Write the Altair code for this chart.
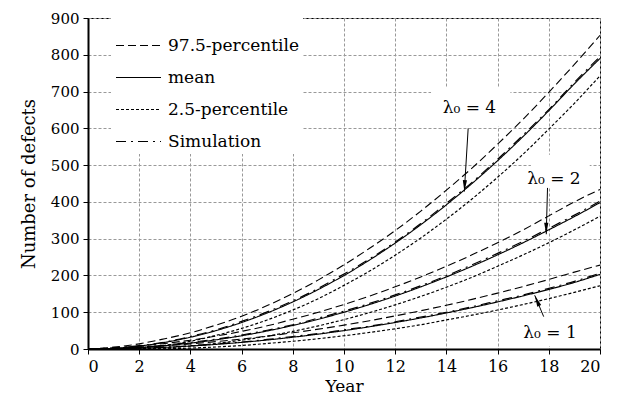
import altair as alt
import pandas as pd

years = list(range(0, 21))

mean4 = [0, 2, 8, 18, 32, 50, 72, 98, 128, 162, 200, 242, 288, 338, 392, 450, 512, 578, 648, 721, 790]
upper4 = [0, 5, 14, 28, 44, 65, 89, 118, 151, 188, 229, 274, 322, 375, 432, 492, 557, 625, 698, 774, 853]
lower4 = [0, 0, 3, 10, 21, 37, 56, 79, 106, 137, 173, 212, 255, 302, 353, 408, 467, 530, 598, 668, 743]
sim4 = [0, 3, 9, 19, 34, 52, 75, 101, 131, 165, 204, 245, 291, 341, 396, 453, 516, 582, 651, 725, 795]

mean2 = [0, 1, 4, 9, 16, 25, 36, 49, 64, 81, 100, 121, 144, 169, 196, 225, 256, 289, 324, 360, 398]
upper2 = [0, 3, 8, 15, 24, 35, 48, 63, 81, 100, 121, 144, 169, 196, 225, 256, 289, 324, 362, 400, 434]
lower2 = [0, 0, 1, 3, 8, 15, 24, 35, 48, 63, 80, 99, 120, 143, 168, 195, 225, 256, 289, 324, 361]
sim2 = [0, 1, 5, 10, 18, 27, 38, 51, 66, 84, 103, 124, 147, 172, 199, 229, 260, 293, 328, 364, 402]

mean1 = [0, 0.5, 2, 4.5, 8, 12.5, 18, 24.5, 32, 40.5, 50, 60.5, 72, 84.5, 98, 112.5, 128, 144.5, 162, 181, 203]
upper1 = [0, 2, 5, 9, 14, 20, 27, 35, 44, 54, 65, 77, 90, 104, 119, 135, 152, 170, 189, 209, 228]
lower1 = [0, 0, 0, 0.5, 2.5, 5.5, 9.5, 15, 21, 28, 36, 45, 55, 66, 79, 92, 106, 121, 137, 154, 172]
sim1 = [0, 1, 3, 5, 9, 14, 19, 26, 34, 42, 52, 62, 74, 87, 100, 115, 131, 147, 165, 184, 206]

kinds = ["97.5-percentile", "mean", "2.5-percentile", "Simulation"]
dashes = [[8, 4], [1, 0], [3, 2], [10, 5, 2, 5]]
widths = [1.1, 1.2, 1.0, 2.6]

series = {
    ("4", "97.5-percentile"): upper4, ("4", "mean"): mean4, ("4", "2.5-percentile"): lower4, ("4", "Simulation"): sim4,
    ("2", "97.5-percentile"): upper2, ("2", "mean"): mean2, ("2", "2.5-percentile"): lower2, ("2", "Simulation"): sim2,
    ("1", "97.5-percentile"): upper1, ("1", "mean"): mean1, ("1", "2.5-percentile"): lower1, ("1", "Simulation"): sim1,
}
rows = []
for (lam, kind), vals in series.items():
    for t, v in zip(years, vals):
        rows.append({"year": t, "value": v, "kind": kind, "curve": lam + "-" + kind})
df = pd.DataFrame(rows)

# annotations
lab_text = ["λ₀ = 4", "λ₀ = 2", "λ₀ = 1"]
lab_x = [14.9, 18.2, 18.05]
lab_y = [655, 462, 43]
box_x1 = [13.4, 17.3, 16.6]
box_x2 = [16.5, 19.6, 19.7]
box_y1 = [605, 440, 8]
box_y2 = [712, 528, 98]
arr_x1 = [14.85, 17.95, 17.8]
arr_y1 = [600, 438, 88]
arr_x2 = [14.7, 17.9, 17.45]
arr_y2 = [428, 312, 146]
arr_angle = [183, 180, 337]

ann = pd.DataFrame({
    "text": lab_text, "lx": lab_x, "ly": lab_y,
    "bx1": box_x1, "bx2": box_x2, "by1": box_y1, "by2": box_y2,
    "ax1": arr_x1, "ay1": arr_y1, "ax2": arr_x2, "ay2": arr_y2, "ang": arr_angle,
})

FONT = "DejaVu Serif"

xscale = alt.Scale(domain=[0, 20], nice=False)
yscale = alt.Scale(domain=[0, 900], nice=False)

xaxis = alt.Axis(
    values=list(range(0, 21, 2)), title="Year", labelFontSize=16, titleFontSize=17,
    titlePadding=4, labelPadding=4, labelOverlap=False, labelFont=FONT, titleFont=FONT,
    titleFontWeight="normal")
yaxis = alt.Axis(
    values=list(range(0, 901, 100)), tickCount=10, title="Number of defects", labelFontSize=15,
    titleFontSize=18, titlePadding=12, labelPadding=4, labelOverlap=False,
    labelFont=FONT, titleFont=FONT, titleFontWeight="normal")

legend = alt.Legend(
    orient="none", legendX=23, legendY=0, title=None,
    symbolType="stroke", symbolSize=2025, symbolStrokeColor="black", symbolStrokeWidth=1.3,
    labelFont=FONT, labelFontSize=17, labelColor="black", labelOffset=6,
    fillColor="white", padding=4, rowPadding=-19,
)

lines = alt.Chart(df).mark_line(color="black", interpolate="monotone").encode(
    x=alt.X("year:Q", scale=xscale, axis=xaxis),
    y=alt.Y("value:Q", scale=yscale, axis=yaxis),
    strokeDash=alt.StrokeDash("kind:N", scale=alt.Scale(domain=kinds, range=dashes), legend=legend),
    strokeWidth=alt.StrokeWidth("kind:N", scale=alt.Scale(domain=kinds, range=widths), legend=None),
    detail="curve:N",
)

boxes = alt.Chart(ann).mark_rect(color="white").encode(
    x="bx1:Q", x2="bx2:Q", y="by1:Q", y2="by2:Q",
)
rules = alt.Chart(ann).mark_rule(color="black", strokeWidth=1).encode(
    x="ax1:Q", y="ay1:Q", x2="ax2:Q", y2="ay2:Q"
)
heads = alt.Chart(ann).mark_point(
    shape="M0,0 L-0.4,2.2 L0.4,2.2 Z", filled=True, color="black", size=110, opacity=1
).encode(x="ax2:Q", y="ay2:Q", angle=alt.Angle("ang:Q", scale=None))
texts = alt.Chart(ann).mark_text(font=FONT, fontSize=17, color="black",
                                 baseline="middle", align="center").encode(
    x="lx:Q", y="ly:Q", text="text:N"
)

chart = alt.layer(lines, boxes, rules, heads, texts).properties(
    width=512, height=331,
    autosize=alt.AutoSizeParams(type="none"),
    padding={"left": 80, "top": 10, "right": 14, "bottom": 51},
).configure(
    font=FONT
).configure_view(
    stroke="black", strokeWidth=1
).configure_legend(
    labelFont=FONT, labelFontSize=17, labelColor="black"
).configure_axis(
    labelFont=FONT, titleFont=FONT, labelColor="black", titleColor="black",
    titleFontWeight="normal", tickColor="black", tickSize=5, tickWidth=1,
    domainColor="black", domainWidth=2, labelOverlap=False,
    grid=True, gridColor="#999999", gridDash=[3, 2], gridWidth=1, gridOpacity=1,
)

chart.save("out.html", embed_options={"renderer": "svg", "actions": False})
